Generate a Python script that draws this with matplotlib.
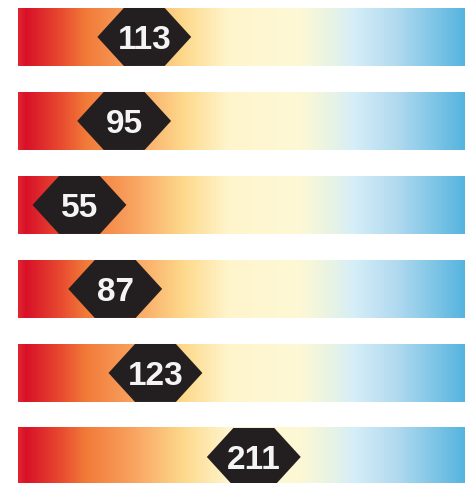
import numpy as np
import matplotlib.pyplot as plt
from matplotlib.colors import LinearSegmentedColormap
from matplotlib.patches import Polygon

# values shown in the hexagon markers, top to bottom
values = [113, 95, 55, 87, 123, 211]
scale_max = 400

# gradient stops (fraction along the bar, colour)
stops = [0.0, 0.016, 0.094, 0.15, 0.25, 0.37, 0.47, 0.63, 0.70, 0.75, 0.85, 1.0]
stop_colors = ['#e0242f', '#d81129', '#e84a30', '#f27a38', '#f8a05e', '#fdd98c',
               '#fff5cc', '#fdf8d5', '#e8f3e4', '#d6eef8', '#b0d9ef', '#55b4df']
cmap = LinearSegmentedColormap.from_list('heat', list(zip(stops, stop_colors)))

fig = plt.figure(figsize=(4.65, 4.83), dpi=100)
ax = fig.add_axes([18 / 465, 0, 447 / 465, 1])
ax.axis('off')

bar_h = 0.69
grad = np.linspace(0, 1, 512).reshape(1, -1)
hex_w = 42      # half width to the points
hex_top = 18.3  # half width of the flat top

for i, v in enumerate(values):
    ax.imshow(grad, cmap=cmap, aspect='auto',
              extent=[0, scale_max, i + bar_h / 2, i - bar_h / 2], zorder=1)
    pts = [(v - hex_w, i), (v - hex_top, i - bar_h / 2), (v + hex_top, i - bar_h / 2),
           (v + hex_w, i), (v + hex_top, i + bar_h / 2), (v - hex_top, i + bar_h / 2)]
    ax.add_patch(Polygon(pts, closed=True, facecolor='#231f20', edgecolor='none', zorder=2))
    ax.text(v, i + 0.04, str(v), color='#f4f4f4', ha='center', va='center',
            fontsize=24, fontweight='bold', family='Liberation Sans', zorder=3)

ax.set_xlim(0, scale_max)
ax.set_ylim(5.31, -0.44)
fig.savefig('out.png', dpi=100)
